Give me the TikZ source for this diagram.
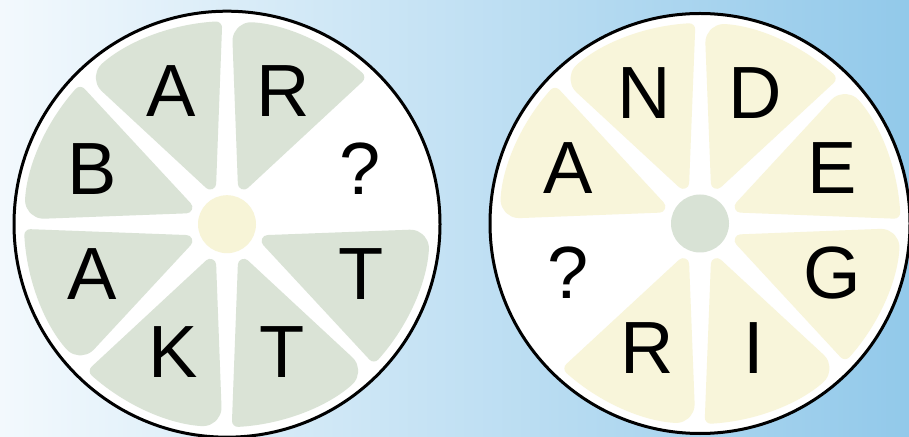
\documentclass[tikz,border=0pt]{standalone}
\usepackage{fontspec}
\setmainfont{Liberation Sans}
\usetikzlibrary{calc}
\definecolor{bgL}{RGB}{243,249,253}
\definecolor{bgR}{RGB}{146,201,234}
\definecolor{sage}{RGB}{218,227,214}
\definecolor{cream}{RGB}{248,245,218}
\definecolor{dotcream}{RGB}{247,244,215}
\definecolor{dotsage}{RGB}{216,226,213}
\tikzset{
  wedgefill/.style={fill=#1, draw=#1, line width=12pt, line join=round},
  letter/.style={font=\fontsize{74}{74}\selectfont, inner sep=0pt, text height=53pt, text depth=0pt},
  ringline/.style={draw=black, line width=3pt},
}
\newcommand\wedgeat[4]{%
  \path[wedgefill=#4] ($(#1)+({#2+3.2}:#3 pt)$) -- ($(#1)+({#2+22.5}:44pt)$) [rounded corners=14pt] -- ($(#1)+({#2+45-3.2}:#3 pt)$) [sharp corners] arc[start angle={#2+45-3.2}, end angle={#2+3.2}, radius=#3 pt] -- cycle;
}
\begin{document}
\begin{tikzpicture}[x=1pt,y=1pt]
\useasboundingbox (0,0) rectangle (909,436);
\clip (0,0) rectangle (909,436);
\shade[left color=bgL, right color=bgR] (0,0) rectangle (909,436);
% left wheel
\coordinate (L) at (227,211.8);
\fill[white] (L) circle[radius=213pt];
\foreach \a in {45,90,...,315} {\wedgeat{L}{\a}{197}{sage}}
\node[circle, fill=dotcream, minimum size=58pt, inner sep=0pt] (Ldot) at (L) {};
\draw[ringline] (L) circle[radius=213pt];
% right wheel
\coordinate (R) at (700,212.5);
\fill[white] (R) circle[radius=210pt];
\foreach \a in {0,45,90,135,225,270,315} {\wedgeat{R}{\a}{194.5}{cream}}
\node[circle, fill=dotsage, minimum size=58pt, inner sep=0pt] (Rdot) at (R) {};
\draw[ringline] (R) circle[radius=210pt];
% left letters
\node[letter] (l1) at (171,346) {A};
\node[letter] (l2) at (283.5,346) {R};
\node[letter] (l3) at (360.5,268) {?};
\node[letter] (l4) at (361,162.5) {T};
\node[letter] (l5) at (282.5,84.5) {T};
\node[letter] (l6) at (173.5,84.5) {K};
\node[letter] (l7) at (92.5,162.5) {A};
\node[letter] (l8) at (92.5,267.5) {B};
% right letters
\node[letter] (r1) at (644,344.3) {N};
\node[letter] (r2) at (755,344.3) {D};
\node[letter] (r3) at (832,268.5) {E};
\node[letter] (r4) at (832,163.5) {G};
\node[letter] (r5) at (754,88.5) {I};
\node[letter] (r6) at (647,88.5) {R};
\node[letter] (r7) at (568.5,164) {?};
\node[letter] (r8) at (568.5,268.5) {A};
\end{tikzpicture}
\end{document}
